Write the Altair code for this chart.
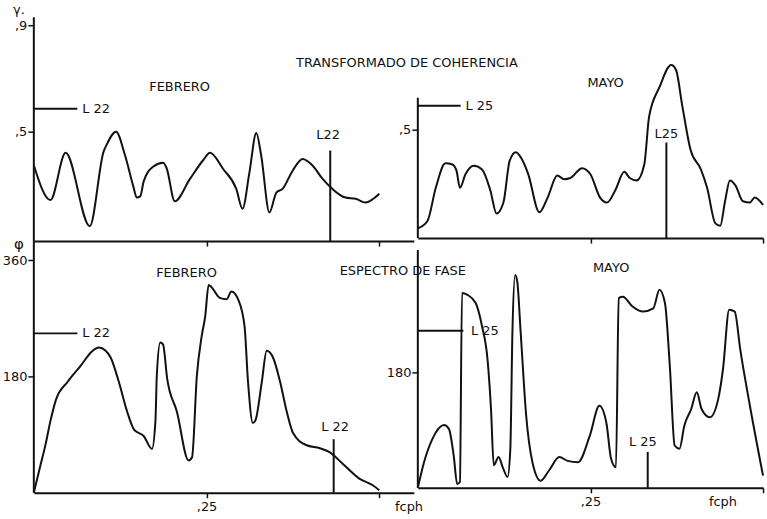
import altair as alt
import pandas as pd

FONT = "DejaVu Sans"
INK = "#111111"

# ---- Transformed coherence, February (frequency in cph) ----
coh_feb_f = [0, 0.024, 0.046, 0.081, 0.101, 0.105, 0.119, 0.132, 0.144, 0.149, 0.154, 0.159,
             0.173, 0.187, 0.192, 0.204, 0.226, 0.245, 0.255, 0.274, 0.293, 0.302, 0.312,
             0.322, 0.329, 0.341, 0.351, 0.360, 0.375, 0.389, 0.403, 0.418, 0.432, 0.451,
             0.466, 0.480, 0.500]
coh_feb_z = [0.61, 0.33, 0.71, 0.12, 0.72, 0.77, 0.88, 0.69, 0.44, 0.35, 0.36, 0.48,
             0.60, 0.63, 0.59, 0.32, 0.50, 0.65, 0.71, 0.58, 0.42, 0.26, 0.55,
             0.87, 0.69, 0.23, 0.39, 0.42, 0.57, 0.66, 0.61, 0.50, 0.42, 0.35,
             0.34, 0.31, 0.38]

# ---- Transformed coherence, May ----
coh_may_f = [0, 0.014, 0.026, 0.040, 0.050, 0.056, 0.061, 0.069, 0.081, 0.093, 0.105, 0.114,
             0.124, 0.133, 0.142, 0.150, 0.160, 0.176, 0.188, 0.202, 0.212, 0.221, 0.238,
             0.250, 0.264, 0.274, 0.286, 0.299, 0.307, 0.317, 0.328, 0.335, 0.350, 0.367,
             0.374, 0.383, 0.395, 0.410, 0.419, 0.431, 0.438, 0.445, 0.452, 0.460, 0.471,
             0.481, 0.488, 0.500]
coh_may_z = [0.08, 0.14, 0.41, 0.61, 0.60, 0.55, 0.41, 0.52, 0.59, 0.56, 0.39, 0.20,
             0.29, 0.63, 0.70, 0.65, 0.52, 0.21, 0.33, 0.51, 0.48, 0.49, 0.57,
             0.52, 0.33, 0.29, 0.39, 0.54, 0.49, 0.47, 0.60, 0.99, 1.23, 1.41,
             1.37, 1.08, 0.72, 0.56, 0.41, 0.12, 0.10, 0.30, 0.47, 0.43, 0.30,
             0.29, 0.33, 0.27]

# ---- Phase spectrum, February (degrees) ----
fase_feb_f = [0, 0.009, 0.017, 0.024, 0.032, 0.049, 0.068, 0.084, 0.094, 0.104, 0.111, 0.123,
              0.135, 0.145, 0.159, 0.171, 0.176, 0.178, 0.183, 0.187, 0.193, 0.207, 0.224,
              0.229, 0.236, 0.243, 0.248, 0.253, 0.257, 0.269, 0.279, 0.286, 0.296, 0.305,
              0.310, 0.317, 0.321, 0.330, 0.337, 0.346, 0.356, 0.366, 0.375, 0.394, 0.414,
              0.428, 0.447, 0.471, 0.490, 0.500]
fase_feb_deg = [0, 40, 75, 111, 144, 172, 197, 219, 225, 220, 210, 172,
                126, 98, 88, 68, 111, 182, 233, 230, 177, 126, 50,
                55, 182, 243, 273, 322, 319, 302, 300, 312, 299, 258,
                172, 108, 113, 172, 220, 210, 174, 126, 93, 74, 69,
                63, 45, 22, 12, 4]

# ---- Phase spectrum, May (degrees) ----
fase_may_f = [0, 0.009, 0.021, 0.038, 0.045, 0.052, 0.057, 0.061, 0.064, 0.072, 0.084, 0.093,
              0.101, 0.106, 0.110, 0.117, 0.123, 0.130, 0.134, 0.137, 0.141, 0.144, 0.149,
              0.157, 0.166, 0.178, 0.190, 0.205, 0.217, 0.232, 0.249, 0.263, 0.273, 0.280,
              0.287, 0.291, 0.297, 0.311, 0.326, 0.341, 0.350, 0.358, 0.365, 0.372, 0.379,
              0.386, 0.396, 0.404, 0.411, 0.423, 0.435, 0.442, 0.451, 0.459, 0.467, 0.481,
              0.500]
fase_may_deg = [0, 40, 76, 98, 92, 50, 6, 9, 304, 301, 288, 252,
                200, 123, 35, 48, 32, 17, 61, 242, 332, 322, 242,
                112, 40, 11, 27, 48, 42, 40, 81, 128, 102, 45,
                32, 296, 298, 283, 275, 280, 309, 288, 190, 66, 61,
                97, 123, 149, 123, 110, 138, 185, 278, 275, 216, 128,
                19]

# Axis tick positions on the transformed-coherence scale
coh_ticks = [0.8814, 1.735]
fase_ticks = [180, 360]


def panel(freq, vals, xmax, ymax, width, height, yticks, ylabel_expr, show_x_labels,
          axis_top, level_h, level_h_end, level_v_f, level_v_top, texts, extra=()):
    x = alt.X("f:Q", title=None,
              scale=alt.Scale(domain=[0, xmax], nice=False, zero=False),
              axis=alt.Axis(values=[0.25, 0.5], grid=False, domain=True,
                            domainColor=INK, domainWidth=2, tickColor=INK,
                            tickWidth=1.5, tickSize=5,
                            labels=show_x_labels,
                            labelExpr="datum.value == 0.25 ? ',25' : ''",
                            labelFont=FONT, labelFontSize=13, labelColor=INK,
                            labelPadding=3))
    y = alt.Y("v:Q", title=None,
              scale=alt.Scale(domain=[0, ymax], nice=False, zero=False),
              axis=alt.Axis(values=yticks, grid=False, domain=False,
                            tickColor=INK, tickWidth=1.5, tickSize=6,
                            labelExpr=ylabel_expr, labelFont=FONT,
                            labelFontSize=13, labelColor=INK, labelPadding=1))

    curve = alt.Chart(pd.DataFrame({"f": freq, "v": vals})).mark_line(
        color=INK, strokeWidth=2, interpolate="monotone"
    ).encode(x=x, y=y)

    # y-axis line plus the horizontal and vertical significance levels
    rules_df = pd.DataFrame({
        "f": [0, 0, level_v_f],
        "v": [0, level_h, 0],
        "f2": [0, level_h_end, level_v_f],
        "v2": [axis_top, level_h, level_v_top],
    })
    rules = alt.Chart(rules_df).mark_rule(color=INK, strokeWidth=2).encode(
        x=x, y=y, x2="f2:Q", y2="v2:Q")

    text_df = pd.DataFrame(texts, columns=["label", "f", "v"])
    labels = alt.Chart(text_df).mark_text(
        font=FONT, fontSize=13, color=INK, align="center", baseline="middle"
    ).encode(x=x, y=y, text="label:N")

    return alt.layer(curve, rules, labels, *extra).properties(width=width, height=height)


coh_expr = "datum.value < 1 ? ',5' : ',9'"
fase_expr = "datum.value < 270 ? '180' : '360'"

# Axis symbols: coherence (γ) and phase (φ)
gamma = alt.Chart(pd.DataFrame({"t": ["γ."]})).mark_text(
    font=FONT, fontSize=13, color=INK, align="center", baseline="middle"
).encode(text="t:N", x=alt.value(-15), y=alt.value(-7))
phi = alt.Chart(pd.DataFrame({"t": ["φ"]})).mark_text(
    font=FONT, fontSize=15, color=INK, align="center", baseline="middle"
).encode(text="t:N", x=alt.value(-15), y=alt.value(3))

top_left = panel(
    coh_feb_f, coh_feb_z, 0.55, 1.8, 382, 225, coh_ticks, coh_expr, False,
    1.8, 1.064, 0.063, 0.429, 0.728,
    [["TRANSFORMADO DE COHERENCIA", 0.540, 1.432],
     ["FEBRERO", 0.211, 1.24],
     ["L 22", 0.090, 1.064],
     ["L22", 0.426, 0.856]],
    extra=(gamma,))

top_right = panel(
    coh_may_f, coh_may_z, 0.5, 1.8, 347, 222, [coh_ticks[0]], coh_expr, False,
    1.144, 1.079, 0.062, 0.360, 0.779,
    [["MAYO", 0.272, 1.265],
     ["L 25", 0.089, 1.079],
     ["L25", 0.360, 0.852]])

bottom_left = panel(
    fase_feb_f, fase_feb_deg, 0.55, 390, 382, 253, fase_ticks, fase_expr, True,
    390, 247, 0.063, 0.434, 83,
    [["FEBRERO", 0.221, 341],
     ["ESPECTRO DE FASE", 0.534, 344],
     ["L 22", 0.090, 247],
     ["L 22", 0.436, 102],
     ["fcph", 0.543, -21.6]],
    extra=(phi,))

bottom_right = panel(
    fase_may_f, fase_may_deg, 0.5, 385, 347, 248, [fase_ticks[0]], fase_expr, True,
    371, 245, 0.066, 0.333, 56,
    [["MAYO", 0.280, 343],
     ["L 25", 0.097, 245],
     ["L 25", 0.326, 71],
     ["fcph", 0.442, -21.7]])

chart = alt.concat(
    top_left, top_right, bottom_left, bottom_right,
    columns=2, spacing=alt.RowColnumber(row=0, column=4), bounds="flush",
).properties(
    padding={"left": 2, "top": 3, "right": 0, "bottom": 0},
    background="white",
).configure_view(stroke=None)

chart.save("out.html", embed_options={"renderer": "svg", "actions": False})
